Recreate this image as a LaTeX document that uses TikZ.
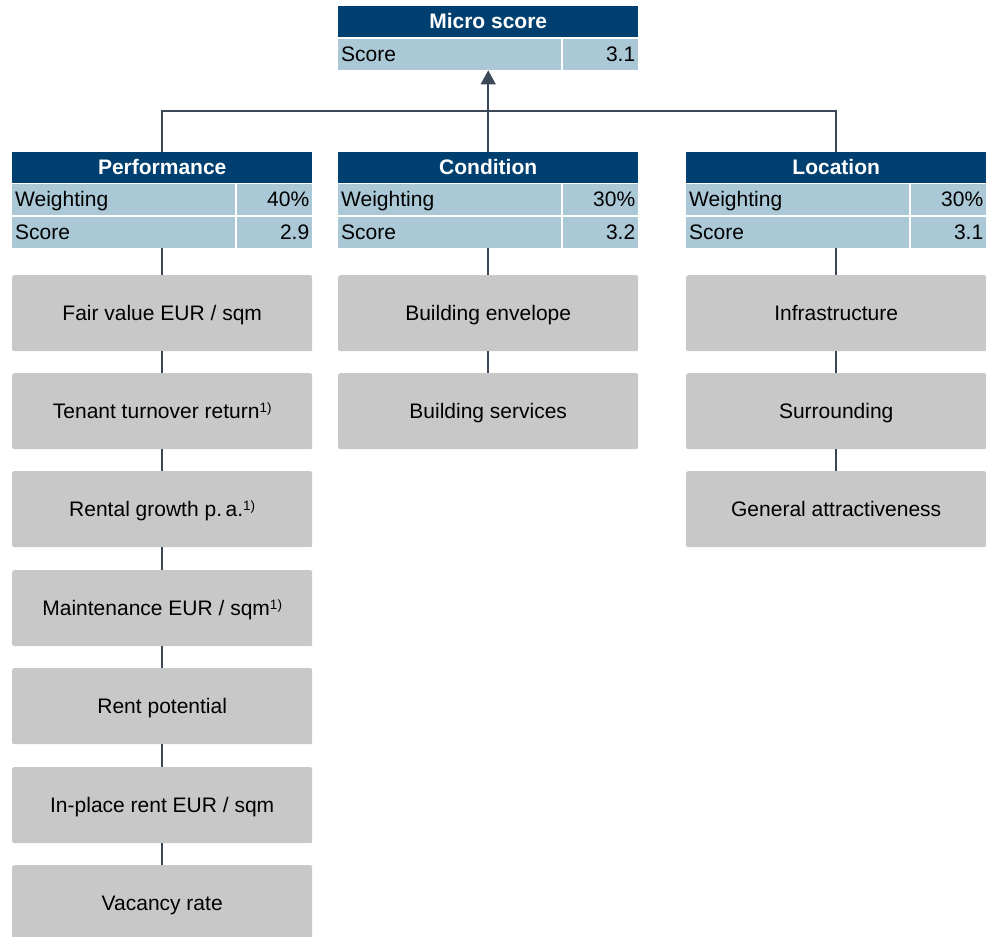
\documentclass[tikz,border=0pt]{standalone}
\usepackage{fontspec}
\setmainfont{Liberation Sans}
\usetikzlibrary{arrows.meta}
\definecolor{hdrblue}{RGB}{0,64,112}
\definecolor{cellblue}{RGB}{170,200,214}
\definecolor{boxgray}{RGB}{200,200,200}
\definecolor{connc}{RGB}{59,72,87}
\newcommand\fnmark{\raisebox{5.5pt}{\fontsize{13.5}{13.5}\selectfont 1)}}
\begin{document}
\begin{tikzpicture}[x=1pt,y=-1pt,
  every node/.style={font=\fontsize{21}{25}\selectfont, text height=19, text depth=4.45},
  hdr/.style={fill=hdrblue, text=white, font=\fontsize{21}{25}\selectfont\bfseries, minimum width=300, minimum height=31, inner sep=0, anchor=north west},
  lcell/.style={fill=cellblue, text width=217, align=left, inner xsep=3, inner ysep=0, minimum height=31, anchor=north west},
  rcell/.style={fill=cellblue, text width=69, align=right, inner xsep=3, inner ysep=0, minimum height=31, anchor=north west},
  gbox/.style={fill=boxgray, rounded corners=2, minimum width=300, minimum height=76, inner sep=0, align=center, anchor=north west},
  conn/.style={draw=connc, line width=1.5}
]
\useasboundingbox (0,0) rectangle (986,937);
\clip (0,0) rectangle (986,937);
% Micro score
\node[hdr] (mh) at (338,6) {Micro score};
\node[lcell] (ms) at (338,39) {Score};
\node[rcell] (msv) at (563,39) {3.1};
% Performance
\node[hdr] (ph) at (12,152) {Performance};
\node[lcell] (pw) at (12,184) {Weighting};
\node[rcell] (pwv) at (237,184) {40\%};
\node[lcell] (ps) at (12,217) {Score};
\node[rcell] (psv) at (237,217) {2.9};
% Condition
\node[hdr] (ch) at (338,152) {Condition};
\node[lcell] (cw) at (338,184) {Weighting};
\node[rcell] (cwv) at (563,184) {30\%};
\node[lcell] (cs) at (338,217) {Score};
\node[rcell] (csv) at (563,217) {3.2};
% Location
\node[hdr] (lh) at (686,152) {Location};
\node[lcell] (lw) at (686,184) {Weighting};
\node[rcell] (lwv) at (911,184) {30\%};
\node[lcell] (ls) at (686,217) {Score};
\node[rcell] (lsv) at (911,217) {3.1};
% Performance items
\node[gbox] (p1) at (12,275) {Fair value EUR / sqm};
\node[gbox] (p2) at (12,373) {Tenant turnover return\fnmark};
\node[gbox] (p3) at (12,471) {Rental growth p.\,a.\fnmark};
\node[gbox] (p4) at (12,570) {Maintenance EUR / sqm\fnmark};
\node[gbox] (p5) at (12,668) {Rent potential};
\node[gbox] (p6) at (12,767) {In-place rent EUR / sqm};
\node[gbox] (p7) at (12,865) {Vacancy rate};
% Condition items
\node[gbox] (c1) at (338,275) {Building envelope};
\node[gbox] (c2) at (338,373) {Building services};
% Location items
\node[gbox] (l1) at (686,275) {Infrastructure};
\node[gbox] (l2) at (686,373) {Surrounding};
\node[gbox] (l3) at (686,471) {General attractiveness};
% connectors to micro score
\coordinate (jn) at (488,111);
\draw[conn] (ph.north) |- (jn) -| (lh.north);
\draw[conn, -{Triangle[width=15,length=14]}] (ch.north) -- (ch.north |- ms.south);
% item connectors
\draw[conn] (p1.north |- ps.south) -- (p1.north);
\draw[conn] (p1.south) -- (p2.north);
\draw[conn] (p2.south) -- (p3.north);
\draw[conn] (p3.south) -- (p4.north);
\draw[conn] (p4.south) -- (p5.north);
\draw[conn] (p5.south) -- (p6.north);
\draw[conn] (p6.south) -- (p7.north);
\draw[conn] (c1.north |- cs.south) -- (c1.north);
\draw[conn] (c1.south) -- (c2.north);
\draw[conn] (l1.north |- ls.south) -- (l1.north);
\draw[conn] (l1.south) -- (l2.north);
\draw[conn] (l2.south) -- (l3.north);
\end{tikzpicture}
\end{document}
